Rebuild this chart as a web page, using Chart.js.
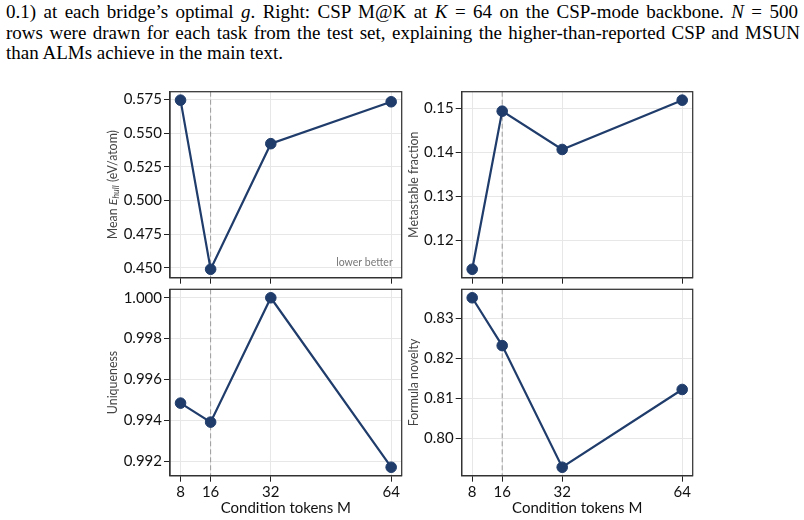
<!DOCTYPE html>
<html><head><meta charset="utf-8">
<script src="https://cdn.jsdelivr.net/npm/chart.js@4.4.1/dist/chart.umd.min.js"></script>
<style>
html,body{margin:0;padding:0;background:#fff;}
body{width:804px;height:520px;overflow:hidden;position:relative;}
.cap{position:absolute;left:6px;width:792px;font-family:"Liberation Serif","Times New Roman",serif;font-size:19px;line-height:19px;color:#000;white-space:nowrap;}
.just{text-align:justify;text-align-last:justify;white-space:normal;}
.cap i{font-style:italic;}
canvas{position:absolute;}
</style>
</head><body>
<div class="cap just" style="top:2.4px;width:792px">0.1) at each bridge’s optimal <i>g</i>. Right: CSP M@K at <i>K</i> = 64 on the CSP-mode backbone. <i>N</i> = 500</div>
<div class="cap just" style="top:22.6px;width:794px">rows were drawn for each task from the test set, explaining the higher-than-reported CSP and MSUN</div>
<div class="cap" style="top:43.1px">than ALMs achieve in the main text.</div>
<canvas id="c1" width="320" height="210" style="left:95px;top:80px"></canvas>
<canvas id="c2" width="300" height="210" style="left:405px;top:80px"></canvas>
<canvas id="c3" width="320" height="242" style="left:95px;top:278px"></canvas>
<canvas id="c4" width="300" height="242" style="left:405px;top:278px"></canvas>
<script>
// ---- data ----
const mTokens = [8, 16, 32, 64];
const meanEhull = [0.5745, 0.4490, 0.5422, 0.5733];
const metastableFraction = [0.1135, 0.1494, 0.1407, 0.1519];
const uniqueness = [0.99484, 0.99391, 1.00000, 0.99170];
const formulaNovelty = [0.8352, 0.8232, 0.7927, 0.8122];
const xTickValues = [8, 16, 32, 64];
const ticksEhull = [0.450, 0.475, 0.500, 0.525, 0.550, 0.575];
const ticksMeta = [0.12, 0.13, 0.14, 0.15];
const ticksUniq = [0.992, 0.994, 0.996, 0.998, 1.000];
const ticksNov = [0.80, 0.81, 0.82, 0.83];
const bestM = 16;
const xTitle = "Condition tokens M";
const noteText = "lower better";

const NAVY = '#1f3c6b';
const TICKFONT = {family: 'Lato', size: 15};

function margins(vals) {
  const lo = Math.min(...vals), hi = Math.max(...vals), r = hi - lo;
  return [lo - 0.05 * r, hi + 0.05 * r];
}

const panelPlugin = {
  id: 'panelDeco',
  beforeDatasetsDraw(chart) {
    const o = chart.options.plugins.panelDeco;
    const {ctx, chartArea: a} = chart;
    const xs = chart.scales.x;
    const px = xs.getPixelForValue(o.best);
    ctx.save();
    ctx.strokeStyle = '#9a9a9a';
    ctx.lineWidth = 1;
    ctx.setLineDash([5, 3]);
    ctx.beginPath();
    ctx.moveTo(px, a.top);
    ctx.lineTo(px, a.bottom);
    ctx.stroke();
    ctx.restore();
  },
  afterDraw(chart) {
    const o = chart.options.plugins.panelDeco;
    const {ctx, chartArea: a} = chart;
    ctx.save();
    ctx.strokeStyle = '#333';
    ctx.lineWidth = 1.25;
    ctx.strokeRect(a.left, a.top, a.right - a.left, a.bottom - a.top);
    // y-axis title
    ctx.translate(o.titleX, (a.top + a.bottom) / 2);
    ctx.rotate(-Math.PI / 2);
    ctx.fillStyle = '#444';
    ctx.textBaseline = 'middle';
    const parts = o.yTitle;
    let total = 0;
    const widths = parts.map(p => {
      ctx.font = p.font;
      const w = ctx.measureText(p.t).width;
      total += w;
      return w;
    });
    let x = -total / 2;
    parts.forEach((p, i) => {
      ctx.font = p.font;
      ctx.textAlign = 'left';
      ctx.fillText(p.t, x, p.dy || 0);
      x += widths[i];
    });
    ctx.restore();
    if (o.note) {
      ctx.save();
      ctx.font = '10.5px Lato';
      ctx.fillStyle = '#777';
      ctx.textAlign = 'right';
      ctx.textBaseline = 'middle';
      ctx.fillText(o.note, a.right - 9, a.bottom - 15.4);
      ctx.restore();
    }
  }
};

function makePanel(id, values, yTicks, dec, yWidth, pad, xHeight, showX, titleX, yTitle, note) {
  const [ymin, ymax] = margins(values);
  const [xmin, xmax] = margins(mTokens);
  new Chart(document.getElementById(id), {
    type: 'line',
    data: {
      datasets: [{
        data: mTokens.map((m, i) => ({x: m, y: values[i]})),
        borderColor: NAVY,
        backgroundColor: NAVY,
        borderWidth: 2.2,
        pointRadius: 5.3,
        pointBackgroundColor: NAVY,
        pointBorderColor: NAVY,
        pointBorderWidth: 1,
        tension: 0,
        clip: false
      }]
    },
    options: {
      responsive: false,
      animation: false,
      events: [],
      layout: {padding: pad},
      plugins: {
        legend: {display: false},
        tooltip: {enabled: false},
        panelDeco: {best: bestM, titleX: titleX, yTitle: yTitle, note: note}
      },
      scales: {
        x: {
          type: 'linear',
          min: xmin, max: xmax,
          afterBuildTicks: s => { s.ticks = xTickValues.map(v => ({value: v})); },
          afterFit: s => { s.height = xHeight; },
          ticks: {display: showX, font: TICKFONT, color: '#111', padding: 1, maxRotation: 0,
                  callback: v => String(v)},
          grid: {color: '#e7e7e7', lineWidth: 1, tickColor: '#222', tickLength: 6, drawTicks: true},
          border: {display: true, color: '#333', width: 1.25},
          title: {display: showX, text: xTitle, font: {family: 'Lato', size: 15}, color: '#111',
                  padding: {top: 0, bottom: 3}}
        },
        y: {
          type: 'linear',
          min: ymin, max: ymax,
          afterBuildTicks: s => { s.ticks = yTicks.map(v => ({value: v})); },
          afterFit: s => { s.width = yWidth; },
          ticks: {font: TICKFONT, color: '#111', padding: 2, callback: v => v.toFixed(dec)},
          grid: {color: '#e7e7e7', lineWidth: 1, tickColor: '#222', tickLength: 6, drawTicks: true},
          border: {display: true, color: '#333', width: 1.25}
        }
      }
    },
    plugins: [panelPlugin]
  });
}

const F12 = '12.4px Lato';
makePanel('c1', meanEhull, ticksEhull, 3, 75, {left: 0, right: 13.3, top: 11.7, bottom: 2.3}, 10, false, 113 - 95,
  [{t: 'Mean ', font: F12}, {t: 'E', font: 'italic 12.4px Lato'}, {t: 'hull', font: 'italic 8.8px Lato', dy: 3.5}, {t: ' (eV/atom)', font: F12}], noteText);
makePanel('c2', metastableFraction, ticksMeta, 2, 56.7, {left: 0, right: 12.3, top: 11.7, bottom: 2.3}, 10, false, 413.5 - 405,
  [{t: 'Metastable fraction', font: F12}], null);
makePanel('c3', uniqueness, ticksUniq, 3, 75, {left: 0, right: 13.3, top: 11.3, bottom: 0}, 44.3, true, 113 - 95,
  [{t: 'Uniqueness', font: F12}], null);
makePanel('c4', formulaNovelty, ticksNov, 2, 56.7, {left: 0, right: 12.3, top: 11.3, bottom: 0}, 44.3, true, 413.5 - 405,
  [{t: 'Formula novelty', font: F12}], null);
</script>
</body></html>
